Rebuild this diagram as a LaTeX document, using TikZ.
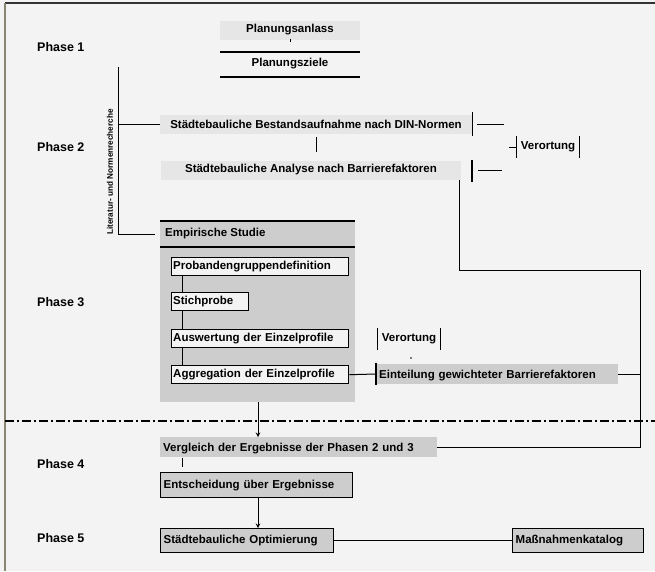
\documentclass[tikz,border=0pt]{standalone}
\usepackage{fontspec}
\setmainfont{Liberation Sans}
\usepackage{tikz}
\usetikzlibrary{arrows,calc,positioning}
\definecolor{bggray}{HTML}{F3F3F3}
\definecolor{lightbox}{HTML}{E6E6E6}
\definecolor{midbox}{HTML}{CDCDCD}
\definecolor{framecol}{HTML}{8A8570}
\tikzset{
    txt/.style={font=\bfseries\fontsize{11.5}{13}\selectfont, inner sep=0pt},
    phase/.style={font=\bfseries\fontsize{12.5}{14}\selectfont, inner sep=0pt, anchor=west},
    lbox/.style={txt, fill=lightbox, minimum height=19pt},
    gbox/.style={txt, fill=midbox, minimum height=20pt, text depth=0pt},
    wbox/.style={txt, draw=black, line width=1.4pt, fill=bggray, minimum height=18pt, anchor=north west, align=left, inner xsep=1.5pt},
    sbox/.style={txt, draw=black, line width=1.4pt, fill=midbox, minimum height=24pt, anchor=north west, align=left, inner xsep=3pt},
    bar/.style={line width=1.4pt},
    con/.style={line width=1pt}
}
\begin{document}
\begin{tikzpicture}[x=1pt,y=-1pt]
    \useasboundingbox (0,0) rectangle (655,571);
    \fill[bggray] (0,0) rectangle (655,571);
    \draw[line width=1.6pt, black!80] (5,3) -- (655,3);
    \draw[line width=1.6pt, framecol] (5,3) -- (5,571);

    % Phasen
    \node[phase] (ph1) at (37,47) {Phase 1};
    \node[phase] (ph2) at (37,147) {Phase 2};
    \node[phase] (ph3) at (37,302) {Phase 3};
    \node[phase] (ph4) at (37,464) {Phase 4};
    \node[phase] (ph5) at (37,538) {Phase 5};

    % Phase 1
    \node[lbox, minimum width=140pt] (plan) at (290,30) {Planungsanlass};
    \node[txt] (ziel) at (290,64) {Planungsziele};
    \draw[bar] (220,52) -- (360,52);
    \draw[bar] (220,77) -- (360,77);
    \draw[con] (plan.south) ++(0,-1) -- ++(0,3);

    % Phase 2
    \node[lbox, minimum width=312pt] (bestand) at (316,124) {Städtebauliche Bestandsaufnahme nach DIN-Normen};
    \node[lbox, minimum width=300pt] (analyse) at (311,170) {Städtebauliche Analyse nach Barrierefaktoren};
    \draw[con] (316,137) -- (316,152);
    \draw[bar] ([yshift=2pt]bestand.north east) -- ([yshift=-2pt]bestand.south east);
    \draw[bar] (472,160) -- (472,182);
    \draw[con] ([xshift=5pt]bestand.east) -- ++(27,0);
    \draw[con] (478,170) -- (502,170);
    \node[txt, minimum height=22pt, inner xsep=4pt] (verort1) at (548,147) {Verortung};
    \draw[bar] (verort1.north west) -- (verort1.south west);
    \draw[bar] (verort1.north east) -- (verort1.south east);
    \draw[con] (verort1.west) -- ++(-8,0);

    % Recherche
    \coordinate (klam) at (118,67);
    \draw[con] (klam) -- (118,234) -- (155,234);
    \draw[con] (118,124) -- (bestand.west);
    \node[txt, font=\bfseries\fontsize{8.2}{9}\selectfont, rotate=90] (lit) at (110,172) {Literatur- und Normenrecherche};

    % Phase 3
    \fill[midbox] (160,221) rectangle (355,402);
    \draw[bar] (160,221) -- (355,221);
    \draw[bar] (160,247) -- (355,247);
    \node[txt, anchor=west] (empir) at (165,234) {Empirische Studie};
    \node[wbox, text width=174pt] (proband) at (171,257) {Probandengruppendefinition};
    \node[wbox, text width=74pt] (stich) at (171,292) {Stichprobe};
    \node[wbox, text width=174pt] (auswert) at (171,329) {Auswertung der Einzelprofile};
    \node[wbox, text width=174pt] (aggreg) at (171,365) {Aggregation der Einzelprofile};
    \draw[con] (proband.south west) ++(11,0) -- ($(stich.north west)+(11,0)$);
    \draw[con] (stich.south west) ++(11,0) -- ($(auswert.north west)+(11,0)$);
    \draw[con] (auswert.south west) ++(11,0) -- ($(aggreg.north west)+(11,0)$);

    \node[txt, minimum height=22pt, inner xsep=4pt] (verort2) at (409,339) {Verortung};
    \draw[bar] (verort2.north west) -- (verort2.south west);
    \draw[bar] (verort2.north east) -- (verort2.south east);
    \fill (411,358) circle (0.8pt);
    \node[gbox, anchor=west, inner xsep=3pt, align=left, text width=236pt] (einteil) at (376,374) {Einteilung gewichteter Barrierefaktoren};
    \draw[bar] ([yshift=1pt]einteil.north west) -- ([yshift=-1pt]einteil.south west);
    \draw[con] (aggreg.east) -- (einteil.west);

    % Trennlinie
    \draw[line width=1.5pt, dash pattern=on 9pt off 3pt on 2pt off 3pt] (5,421) -- (655,421);

    % Phase 4
    \node[gbox, anchor=north west, text width=271pt, inner xsep=3pt, align=left] (vergl) at (160,437) {Vergleich der Ergebnisse der Phasen 2 und 3};
    \draw[con] ([xshift=-2pt]analyse.south east) |- (640,270) |- (vergl.east);
    \draw[con] (einteil.east) -- (640,374);
    \draw[con, -stealth] (258,402) -- (vergl.north -| 258,0);
    \node[sbox, text width=186pt, minimum height=25pt] (entsch) at (160,472) {Entscheidung über Ergebnisse};
    \draw[con] (vergl.south west) ++(22,1) -- ++(0,9);

    % Phase 5
    \node[sbox, text width=167pt] (optim) at (160,528) {Städtebauliche Optimierung};
    \node[sbox, text width=125pt] (katalog) at (512,528) {Maßnahmenkatalog};
    \draw[con, -stealth] (entsch.south -| 258,0) -- (optim.north -| 258,0);
    \draw[con] (optim.east) -- (katalog.west);
\end{tikzpicture}
\end{document}
